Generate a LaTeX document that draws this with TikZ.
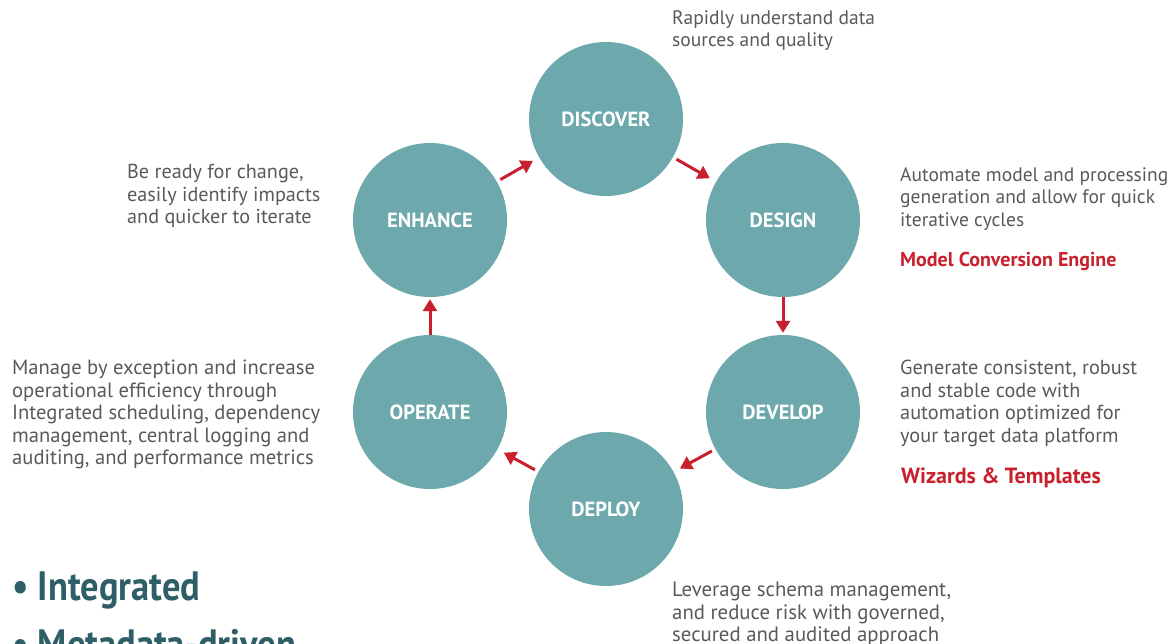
\documentclass[tikz,border=0pt]{standalone}
\usepackage{fontspec}
\setmainfont{PT Sans}
\newfontfamily\bulletfont[FakeStretch=0.89]{PT Sans}
\usetikzlibrary{arrows.meta}

\definecolor{stageteal}{HTML}{6DA8AC}
\definecolor{flowred}{HTML}{C9202E}
\definecolor{descgray}{HTML}{595959}
\definecolor{bulletteal}{HTML}{2E5F67}

\begin{document}
\begin{tikzpicture}[x=1pt, y=-1pt, line cap=round, line join=round,
  stage/.style={circle, fill=stageteal, minimum size=154pt, inner sep=0pt,
    text=white, font=\fontsize{20.5}{22}\selectfont\bfseries},
  desc/.style={anchor=north west, inner sep=0pt, align=left, text=descgray,
    font=\fontsize{#1}{22.5}\selectfont},
  desc/.default=19.5,
  tool/.style={anchor=north west, inner sep=0pt, text=flowred,
    font=\fontsize{#1}{22}\selectfont\bfseries},
  tool/.default=20,
  flow/.style={draw=flowred, line width=3pt, line cap=butt,
    -{Triangle[length=12pt,width=14pt]}, shorten <=4pt, shorten >=7pt},
  flowstraight/.style={flow, shorten <=0pt, shorten >=2pt},
  bigbullet/.style={anchor=north west, inner sep=0pt, align=left, text=bulletteal,
    font=\bulletfont\fontsize{41}{58}\selectfont\bfseries}]

% 画布大小与裁剪
\useasboundingbox (0,0) rectangle (1173,643);
\clip (0,0) rectangle (1173,643);

% 六个阶段的圆
\foreach \name/\x/\y/\lbl in {discover/606/119/DISCOVER, design/783/220/DESIGN,
    develop/783/412/DEVELOP, deploy/606/509/DEPLOY,
    operate/430/412/OPERATE, enhance/430/220/ENHANCE}
  \node[stage] (\name) at (\x,\y) {\lbl};

% 循环箭头
\draw[flow] (discover) -- (design);
\draw[flowstraight] (design) -- (develop);
\draw[flow] (develop) -- (deploy);
\draw[flow] (deploy) -- (operate);
\draw[flowstraight] (operate) -- (enhance);
\draw[flow] (enhance) -- (discover);

% 说明文字
\node[desc] (discovertext) at (672,10) {Rapidly understand data\\sources and quality};
\node[desc=20.2] (enhancetext) at (127,164) {Be ready for change,\\easily identify impacts\\and quicker to iterate};
\node[desc=20.6] (operatetext) at (12,360) {Manage by exception and increase\\operational efficiency through\\Integrated scheduling, dependency\\management, central logging and\\auditing, and performance metrics};
\node[desc] (designtext) at (900,167) {Automate model and processing\\generation and allow for quick\\iterative cycles};
\node[tool] (designtool) at (900,252) {Model Conversion Engine};
\node[desc=20.3] (developtext) at (900,360) {Generate consistent, robust\\and stable code with\\automation optimized for\\your target data platform};
\node[tool=22] (developtool) at (901,468) {Wizards \& Templates};
\node[desc=20.8] (deploytext) at (672,582) {Leverage schema management,\\and reduce risk with governed,\\secured and audited approach};

% 左下角要点
\node[bigbullet] (bullets) at (12,572) {• Integrated\\• Metadata-driven};

\end{tikzpicture}
\end{document}
